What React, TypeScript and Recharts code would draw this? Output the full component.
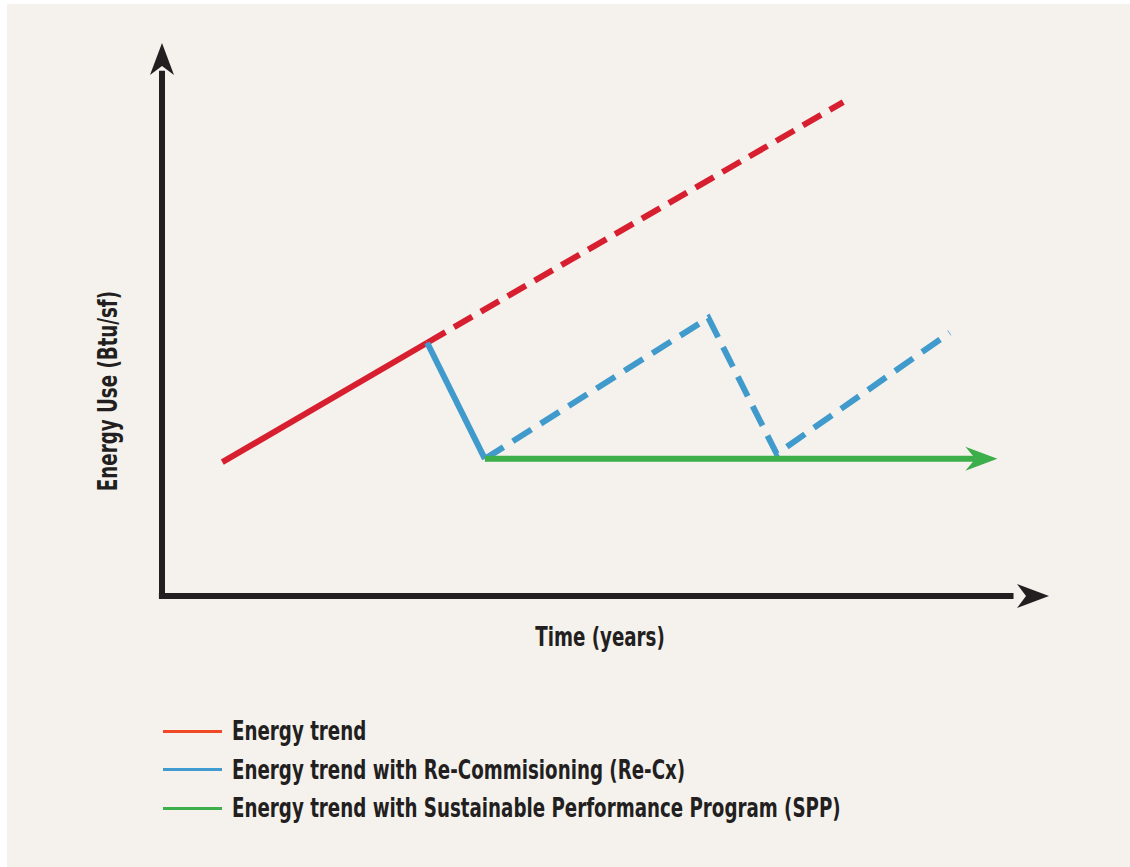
import { LineChart, Line, XAxis, YAxis, ReferenceLine, ReferenceDot } from "recharts";

// x: time (0-100 arbitrary), y: energy use (0-100 arbitrary)
const redSolid = [
  { x: 6.8, y: 24.2 },
  { x: 29.9, y: 45.8 },
];
const redDashed = [
  { x: 29.9, y: 45.8 },
  { x: 76.8, y: 89.3 },
];
const blueSolid = [
  { x: 29.9, y: 45.8 },
  { x: 36.4, y: 24.8 },
];
const blueDashed = [
  { x: 36.4, y: 24.8 },
  { x: 61.6, y: 50.3 },
  { x: 69.3, y: 25.7 },
  { x: 88.8, y: 47.6 },
];
const green = [
  { x: 36.4, y: 24.8 },
  { x: 91.7, y: 24.8 },
];

const legendItems = [
  { label: "Energy trend", color: "#ef4a25" },
  { label: "Energy trend with Re-Commisioning (Re-Cx)", color: "#3f9bd0" },
  { label: "Energy trend with Sustainable Performance Program (SPP)", color: "#3cae4a" },
];

const INK = "#231f20";
const FONT = "'DejaVu Sans Condensed', 'DejaVu Sans', sans-serif";
const SQUEEZE = 0.78;

const upArrow = (props: any) => {
  const { cx, cy } = props;
  return (
    <polygon
      points={`${cx},${cy} ${cx + 12},${cy + 32} ${cx},${cy + 23} ${cx - 12},${cy + 32}`}
      fill={INK}
    />
  );
};

const rightArrow = (color: string) => (props: any) => {
  const { cx, cy } = props;
  return (
    <polygon
      points={`${cx},${cy} ${cx - 32},${cy - 12} ${cx - 23},${cy} ${cx - 32},${cy + 12}`}
      fill={color}
    />
  );
};

const greenHead = (props: any) => {
  const { cx, cy, index } = props;
  if (index !== green.length - 1) return <g key={index} />;
  const tip = cx + 22;
  return (
    <polygon
      key={index}
      points={`${tip},${cy} ${tip - 32},${cy - 12} ${tip - 22},${cy} ${tip - 32},${cy + 12}`}
      fill="#3cae4a"
    />
  );
};

export default function App() {
  return (
    <div
      style={{
        position: "absolute",
        left: 0,
        top: 0,
        width: 1130,
        height: 867,
        background: "#fff",
        fontFamily: FONT,
      }}
    >
      <div
        style={{
          position: "absolute",
          left: 7,
          top: 4,
          width: 1123,
          height: 863,
          background: "#f5f2ee",
        }}
      />
      <div style={{ position: "absolute", left: 0, top: 0 }}>
        <LineChart
          width={1130}
          height={680}
          margin={{ top: 43, left: 162, right: 81, bottom: 84 }}
        >
          <XAxis type="number" dataKey="x" domain={[0, 100]} hide />
          <YAxis type="number" dataKey="y" domain={[0, 100]} hide />
          <ReferenceLine
            segment={[{ x: 0, y: -0.55 }, { x: 0, y: 95 }]}
            stroke={INK}
            strokeWidth={6}
            ifOverflow="visible"
          />
          <ReferenceLine
            segment={[{ x: -0.35, y: 0 }, { x: 96, y: 0 }]}
            stroke={INK}
            strokeWidth={6}
            ifOverflow="visible"
          />
          <ReferenceDot x={0} y={100} r={1} shape={upArrow} ifOverflow="visible" />
          <ReferenceDot x={100} y={0} r={1} shape={rightArrow(INK)} ifOverflow="visible" />
          <Line
            data={redSolid}
            dataKey="y"
            type="linear"
            stroke="#d71f30"
            strokeWidth={6}
            dot={false}
            isAnimationActive={false}
          />
          <Line
            data={redDashed}
            dataKey="y"
            type="linear"
            stroke="#d71f30"
            strokeWidth={6}
            strokeDasharray="21 10"
            dot={false}
            isAnimationActive={false}
          />
          <Line
            data={blueSolid}
            dataKey="y"
            type="linear"
            stroke="#409bcc"
            strokeWidth={6}
            dot={false}
            isAnimationActive={false}
          />
          <Line
            data={blueDashed}
            dataKey="y"
            type="linear"
            stroke="#409bcc"
            strokeWidth={6}
            strokeDasharray="22 11"
            strokeLinejoin="miter"
            dot={false}
            isAnimationActive={false}
          />
          <Line
            data={green}
            dataKey="y"
            type="linear"
            stroke="#3cae4a"
            strokeWidth={6}
            dot={greenHead}
            activeDot={false}
            isAnimationActive={false}
          />
        </LineChart>
      </div>

      <div
        style={{
          position: "absolute",
          left: 600,
          top: 637,
          transform: `translate(-50%, -50%) scaleX(${SQUEEZE})`,
          fontSize: 26,
          fontWeight: 700,
          color: INK,
          whiteSpace: "nowrap",
        }}
      >
        Time (years)
      </div>
      <div
        style={{
          position: "absolute",
          left: 108,
          top: 391,
          transform: `translate(-50%, -50%) rotate(-90deg) scaleX(${SQUEEZE})`,
          fontSize: 26,
          fontWeight: 700,
          color: INK,
          whiteSpace: "nowrap",
        }}
      >
        Energy Use (Btu/sf)
      </div>

      {legendItems.map((item, i) => (
        <div
          key={item.label}
          style={{
            position: "absolute",
            left: 163,
            top: 731 + i * 38.5,
            display: "flex",
            alignItems: "center",
            transform: "translateY(-50%)",
          }}
        >
          <span
            style={{ width: 59, height: 3, background: item.color, display: "inline-block" }}
          />
          <span
            style={{
              marginLeft: 10,
              fontSize: 26,
              fontWeight: 700,
              color: INK,
              whiteSpace: "nowrap",
              display: "inline-block",
              transform: `scaleX(${SQUEEZE})`,
              transformOrigin: "left center",
            }}
          >
            {item.label}
          </span>
        </div>
      ))}
    </div>
  );
}
